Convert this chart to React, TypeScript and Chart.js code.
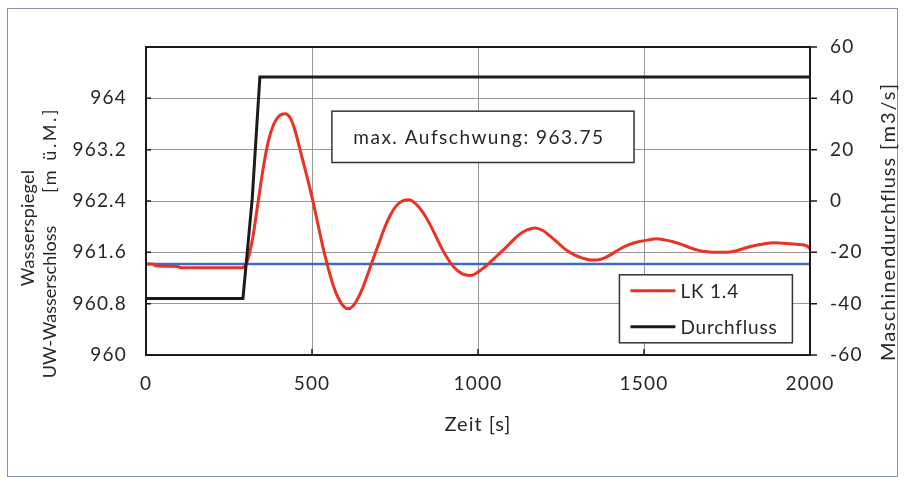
import React, { useEffect, useRef } from 'react';
import { Chart, registerables } from 'chart.js';

Chart.register(...registerables);

// ---- data ----
const timeLK = [0, 20, 28, 95, 105, 288, 300, 311, 322, 337, 352, 368, 385, 402, 419, 436, 450, 464, 482, 500, 517, 533, 549, 563, 578, 593, 608, 623, 638, 653, 668, 683, 700, 717, 735, 753, 772, 792, 812, 833, 855, 875, 892, 909, 927, 945, 961, 977, 993, 1010, 1027, 1050, 1075, 1100, 1125, 1148, 1172, 1195, 1218, 1240, 1265, 1290, 1315, 1340, 1358, 1380, 1405, 1430, 1455, 1480, 1510, 1539, 1565, 1590, 1615, 1640, 1665, 1690, 1720, 1750, 1775, 1800, 1828, 1860, 1889, 1920, 1950, 1975, 1990, 2000];
const valuesLK = [961.42, 961.42, 961.39, 961.38, 961.36, 961.36, 961.4, 961.57, 961.84, 962.36, 962.88, 963.32, 963.6, 963.73, 963.76, 963.68, 963.48, 963.2, 962.84, 962.46, 962.06, 961.68, 961.35, 961.1, 960.9, 960.77, 960.72, 960.76, 960.88, 961.05, 961.26, 961.48, 961.72, 961.96, 962.17, 962.32, 962.4, 962.42, 962.36, 962.23, 962.04, 961.83, 961.65, 961.5, 961.37, 961.29, 961.25, 961.24, 961.27, 961.33, 961.4, 961.51, 961.63, 961.76, 961.88, 961.95, 961.98, 961.94, 961.85, 961.75, 961.64, 961.56, 961.51, 961.48, 961.48, 961.51, 961.58, 961.66, 961.72, 961.76, 961.79, 961.81, 961.79, 961.76, 961.72, 961.67, 961.63, 961.61, 961.6, 961.6, 961.62, 961.66, 961.7, 961.73, 961.75, 961.74, 961.73, 961.72, 961.7, 961.66];
const timeQ = [0, 292, 320, 343, 2000];
const valuesQ = [-38, -38, 1, 48.3, 48.3];
const timeRef = [0, 2000];
const valuesRef = [961.42, 961.42];

const xTicks = [0, 500, 1000, 1500, 2000];
const leftTicks = [960, 960.8, 961.6, 962.4, 963.2, 964, 964.8];
const leftTickLabels = ['960', '960.8', '961.6', '962.4', '963.2', '964', ''];
const rightTicks = [-60, -40, -20, 0, 20, 40, 60];

const seriesNames = ['LK 1.4', 'Durchfluss'];
const annotationText = 'max. Aufschwung: 963.75';
const xTitle = 'Zeit [s]';
const leftTitle1 = 'Wasserspiegel';
const leftTitle2a = 'UW-Wasserschloss';
const leftTitle2b = '[m ü.M.]';
const rightTitleA = 'Maschinendurchfluss';
const rightTitleB = '[m3/s]';

const FONT = 'Lato';
const RED = '#ea3324';
const BLACK = '#1d1a1a';
const BLUE = '#3b6cc2';
const TEXT = '#2a2626';

const overlay = {
  id: 'overlay',
  beforeDraw(chart: any) {
    const { ctx } = chart;
    ctx.save();
    ctx.fillStyle = '#ffffff';
    ctx.fillRect(0, 0, chart.width, chart.height);
    ctx.strokeStyle = '#8890a8';
    ctx.lineWidth = 1;
    ctx.strokeRect(7.5, 8.5, 890, 468);
    ctx.restore();
    ctx.letterSpacing = '1.2px';
  },
  afterDraw(chart: any) {
    const { ctx, chartArea: a, scales } = chart;
    ctx.save();
    ctx.letterSpacing = '0px';
    // plot frame
    ctx.strokeStyle = '#1d1a1a';
    ctx.lineWidth = 2;
    ctx.strokeRect(a.left, a.top, a.right - a.left, a.bottom - a.top);
    // tick marks
    ctx.lineWidth = 1.5;
    ctx.beginPath();
    leftTicks.forEach((v) => {
      const y = scales.y.getPixelForValue(v);
      ctx.moveTo(a.left, y);
      ctx.lineTo(a.left + 5, y);
    });
    rightTicks.forEach((v) => {
      const y = scales.y1.getPixelForValue(v);
      ctx.moveTo(a.right, y);
      ctx.lineTo(a.right + 7, y);
    });
    xTicks.forEach((v) => {
      const x = scales.x.getPixelForValue(v);
      ctx.moveTo(x, a.bottom);
      ctx.lineTo(x, a.bottom - 6);
    });
    ctx.stroke();

    // annotation box
    const bx = scales.x.getPixelForValue(560);
    const bx2 = scales.x.getPixelForValue(1470);
    const by = scales.y.getPixelForValue(963.8);
    const by2 = scales.y.getPixelForValue(963.0);
    ctx.fillStyle = '#fff';
    ctx.fillRect(bx, by, bx2 - bx, by2 - by);
    ctx.strokeStyle = '#333';
    ctx.lineWidth = 1.5;
    ctx.strokeRect(bx, by, bx2 - bx, by2 - by);
    ctx.fillStyle = TEXT;
    ctx.font = `19px ${FONT}`;
    ctx.letterSpacing = '1.5px';
    ctx.textAlign = 'center';
    ctx.textBaseline = 'middle';
    ctx.fillText(annotationText, (bx + bx2) / 2 - 4, (by + by2) / 2 + 1);

    // legend box
    const lx = scales.x.getPixelForValue(1426);
    const lx2 = scales.x.getPixelForValue(1947);
    const ly = scales.y.getPixelForValue(961.25);
    const ly2 = scales.y.getPixelForValue(960.19);
    ctx.fillStyle = '#fff';
    ctx.fillRect(lx, ly, lx2 - lx, ly2 - ly);
    ctx.strokeStyle = '#333';
    ctx.strokeRect(lx, ly, lx2 - lx, ly2 - ly);
    const rows = [ly + 16, ly + 52];
    const cols = [RED, BLACK];
    ctx.letterSpacing = '0.8px';
    seriesNames.forEach((name, i) => {
      ctx.strokeStyle = cols[i];
      ctx.lineWidth = 3;
      ctx.beginPath();
      ctx.moveTo(lx + 11, rows[i]);
      ctx.lineTo(lx + 56, rows[i]);
      ctx.stroke();
      ctx.fillStyle = TEXT;
      ctx.font = `19px ${FONT}`;
      ctx.textAlign = 'left';
      ctx.textBaseline = 'middle';
      ctx.fillText(name, lx + 61, rows[i] + 1);
    });

    // axis titles
    ctx.fillStyle = TEXT;
    ctx.textAlign = 'center';
    ctx.textBaseline = 'middle';
    const rot = (x: number, y: number, t: string, size: number, sp: string) => {
      ctx.save();
      ctx.font = `${size}px ${FONT}`;
      ctx.letterSpacing = sp;
      ctx.translate(x, y);
      ctx.rotate(-Math.PI / 2);
      ctx.fillText(t, 0, 0);
      ctx.restore();
    };
    rot(28, 228, leftTitle1, 18, '0.3px');
    rot(50, 302, leftTitle2a, 18, '0px');
    rot(50, 150, leftTitle2b, 18, '2.6px');
    rot(889, 259, rightTitleA, 20, '1px');
    rot(889, 116, rightTitleB, 20, '2px');
    ctx.font = `20px ${FONT}`;
    ctx.letterSpacing = '1px';
    ctx.fillText(xTitle, (a.left + a.right) / 2, 425);
    ctx.restore();
  },
};

export default function App() {
  const ref = useRef<HTMLCanvasElement | null>(null);
  useEffect(() => {
    if (!ref.current) return;
    const tickFont = { family: FONT, size: 19 };
    const chart = new Chart(ref.current, {
      type: 'line',
      data: {
        datasets: [
          {
            label: seriesNames[1],
            data: timeQ.map((t, i) => ({ x: t, y: valuesQ[i] })),
            yAxisID: 'y1',
            borderColor: BLACK,
            borderWidth: 3,
            pointRadius: 0,
            tension: 0,
          },
          {
            label: seriesNames[0],
            data: timeLK.map((t, i) => ({ x: t, y: valuesLK[i] })),
            yAxisID: 'y',
            borderColor: RED,
            borderWidth: 3,
            pointRadius: 0,
            cubicInterpolationMode: 'monotone',
          },
          {
            label: 'Ruhewasserspiegel',
            data: timeRef.map((t, i) => ({ x: t, y: valuesRef[i] })),
            yAxisID: 'y',
            borderColor: BLUE,
            borderWidth: 2.5,
            pointRadius: 0,
          },
        ],
      },
      options: {
        animation: false,
        responsive: false,
        devicePixelRatio: 1,
        layout: { padding: { top: 47, left: 0, right: 0, bottom: 0 } },
        plugins: { legend: { display: false }, tooltip: { enabled: false } },
        scales: {
          x: {
            type: 'linear',
            min: 0,
            max: 2000,
            afterBuildTicks: (s: any) => { s.ticks = xTicks.map((v) => ({ value: v })); },
            afterFit: (s: any) => { s.height = 122; },
            ticks: { font: tickFont, color: TEXT, padding: 17, maxRotation: 0, callback: (v: any) => String(v) },
            grid: {
              color: (c: any) => (c.tick && (c.tick.value === 0 || c.tick.value === 2000) ? 'rgba(0,0,0,0)' : '#9c9696'),
              lineWidth: 1,
              drawTicks: false,
            },
            border: { display: false },
          },
          y: {
            type: 'linear',
            position: 'left',
            min: 960,
            max: 964.8,
            afterBuildTicks: (s: any) => { s.ticks = leftTicks.map((v) => ({ value: v })); },
            afterFit: (s: any) => { s.width = 146; },
            ticks: {
              font: tickFont,
              color: TEXT,
              padding: 19,
              callback: (v: any, i: number) => leftTickLabels[i],
            },
            grid: {
              color: (c: any) => (c.tick && (c.index === 0 || c.index === leftTicks.length - 1) ? 'rgba(0,0,0,0)' : '#9c9696'),
              lineWidth: 1,
              drawTicks: false,
            },
            border: { display: false },
          },
          y1: {
            type: 'linear',
            position: 'right',
            min: -60,
            max: 60,
            afterBuildTicks: (s: any) => { s.ticks = rightTicks.map((v) => ({ value: v })); },
            afterFit: (s: any) => { s.width = 94; },
            ticks: { font: tickFont, color: TEXT, padding: 20, callback: (v: any) => String(v) },
            grid: { drawOnChartArea: false, drawTicks: false },
            border: { display: false },
          },
        },
      },
      plugins: [overlay],
    } as any);
    return () => chart.destroy();
  }, []);
  return (
    <div style={{ position: 'absolute', left: 0, top: 0, width: 904, height: 477 }}>
      <canvas ref={ref} width={904} height={477} style={{ width: 904, height: 477 }} />
    </div>
  );
}
